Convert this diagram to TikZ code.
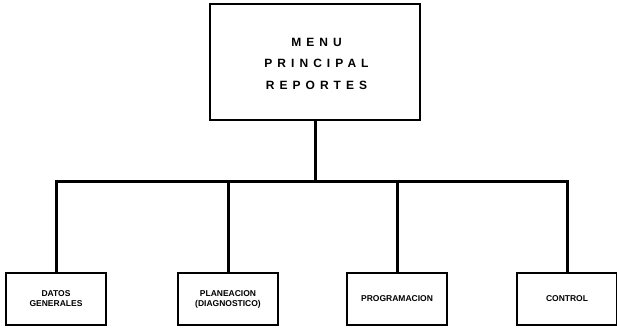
\documentclass[tikz,border=0pt]{standalone}
\usepackage{fontspec}
\setmainfont{Liberation Sans}
\newfontfamily\spacedfont[LetterSpace=42]{Liberation Sans}
\begin{document}
\begin{tikzpicture}[x=1pt,y=-1pt,
  box/.style={draw=black,line width=1.8pt,fill=white,inner sep=0pt},
  topbox/.style={box,minimum width=210pt,minimum height=116pt},
  toptext/.style={inner sep=0pt,font=\spacedfont\bfseries\fontsize{12}{21.5}\selectfont,align=center},
  leaf/.style={box,minimum width=100pt,minimum height=52pt,font=\bfseries\fontsize{8.5}{10}\selectfont,align=center},
  link/.style={line width=3pt}]
\useasboundingbox (0,0) rectangle (617,327);
\node[topbox] (top) at (315,62) {};
\node[toptext] (title) at (314,63.5) {\hspace*{5pt}MENU\\\hspace*{5pt}PRINCIPAL\\\hspace*{5pt}REPORTES};
\node[leaf] (a) at (56,299) {DATOS\\GENERALES};
\node[leaf] (b) at (228,299) {PLANEACION\\(DIAGNOSTICO)};
\node[leaf] (c) at (397,299) {PROGRAMACION};
\node[leaf] (d) at (567,299) {CONTROL};
\coordinate (j) at (315,181);
\draw[link] (top.south) -- (j);
\draw[link] (a.north) |- (j);
\draw[link] (d.north) |- (j);
\draw[link] (b.north) -- (b.north |- j);
\draw[link] (c.north) -- (c.north |- j);
\end{tikzpicture}
\end{document}
